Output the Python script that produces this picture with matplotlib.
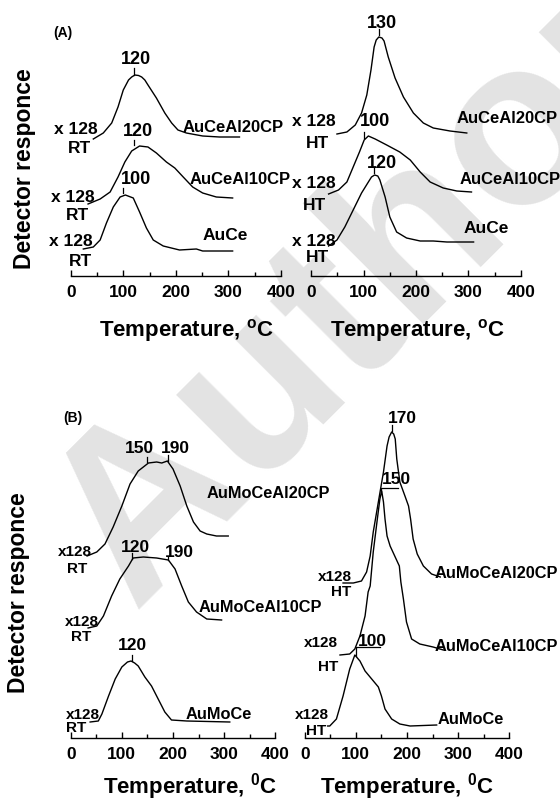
import numpy as np
import matplotlib
matplotlib.use("Agg")
import matplotlib.pyplot as plt
from matplotlib.ticker import MultipleLocator

plt.rcParams["font.family"] = ["Liberation Sans", "DejaVu Sans"]
plt.rcParams["font.weight"] = "bold"
plt.rcParams["mathtext.fontset"] = "custom"
plt.rcParams["mathtext.rm"] = "Liberation Sans:bold"
plt.rcParams["mathtext.bf"] = "Liberation Sans:bold"

# ---------------- data: temperature (deg C) vs detector signal (a.u.) ----------------
# (A) left: RT samples
a20_T = [43, 62, 78, 90, 100, 110, 116, 122, 129, 135, 141, 147, 163, 179, 192, 204, 220, 251, 283, 321]
a20_S = [137, 143, 153, 169, 186, 196, 199, 201, 200.5, 199, 196, 191, 178, 163, 153, 146, 143, 140, 139, 139]
a10_T = [33, 56, 75, 90, 103, 116, 131, 147, 163, 182, 198, 214, 232, 251, 277, 308]
a10_S = [72, 77, 84, 99, 114, 125, 130, 129, 123, 114, 108, 99, 89, 83, 79, 78]
ace_T = [24, 43, 56, 68, 81, 94, 104, 119, 131, 144, 157, 176, 207, 239, 251, 308]
ace_S = [27, 29, 36, 53, 69, 79, 81, 78, 64, 48, 36, 30, 26, 27, 25, 25]

# (A) right: HT samples
r20_T = [49, 68, 84, 96, 106, 114, 120, 124, 129, 135, 139, 147, 160, 176, 195, 214, 233, 265, 297]
r20_S = [142, 144, 151, 163, 181, 206, 229, 236, 239, 238, 235, 219, 198, 179, 163, 153, 148, 145, 143]
r10_T = [33, 52, 68, 80, 92, 101, 109, 122, 144, 169, 189, 208, 227, 252, 278, 306]
r10_S = [82, 86, 94, 109, 124, 136, 140, 137, 131, 124, 116, 104, 94, 88, 85, 84]
rce_T = [33, 49, 64, 80, 96, 109, 115, 121, 127, 131, 141, 150, 163, 182, 208, 233, 259, 310]
rce_S = [30, 36, 49, 66, 83, 94, 99, 101, 100, 96, 79, 59, 44, 38, 35, 35, 34, 34]

# (B) left: RT samples
b20l_T = [32, 51, 67, 83, 100, 116, 132, 152, 168, 178, 189, 200, 214, 227, 240, 253, 266, 285, 308]
b20l_S = [182, 186, 194, 211, 232, 254, 267, 275, 276, 275, 277, 269, 252, 232, 216, 207, 204, 202, 202]
b10l_T = [34, 51, 64, 80, 96, 113, 122, 142, 168, 191, 204, 217, 230, 246, 266, 295]
b10l_S = [110, 112, 122, 142, 159, 172, 180, 181, 180, 178, 169, 152, 136, 126, 119, 118]
bml_T = [38, 54, 61, 74, 87, 100, 111, 118, 125, 132, 145, 158, 171, 184, 197, 227, 311]
bml_S = [16, 17, 24, 42, 59, 71, 76, 77, 75, 72, 61, 52, 39, 26, 18, 17, 16]

# (B) right: HT samples
b20r_T = [75, 95, 111, 121, 128, 134, 144, 154, 161, 165, 170, 174, 177, 180, 186, 196, 203, 207, 212, 220, 232, 248, 265]
b20r_S = [155, 155, 157, 166, 182, 206, 236, 266, 292, 301, 306, 304, 299, 279, 256, 242, 232, 219, 199, 184, 172, 164, 161]
b10r_T = [69, 88, 98, 108, 118, 124, 128, 134, 142, 147, 150.5, 154, 157, 161, 167, 176, 185, 188, 193, 199, 209, 225, 251, 271]
b10r_S = [83, 84, 89, 102, 122, 146, 152, 186, 219, 239, 247, 236, 219, 202, 192, 182, 172, 156, 139, 116, 99, 94, 91, 88]
bmr_T = [45, 49, 62, 75, 88, 98, 108, 118, 131, 144, 150, 157, 170, 186, 206, 258]
bmr_S = [12, 12, 19, 42, 69, 83, 77, 67, 59, 51, 42, 29, 19, 14, 12, 13]

x_ticks = [0, 100, 200, 300, 400]

# ---------------- figure layout (pixels on a 560 x 804 canvas) ----------------
W, H = 560, 804
fig = plt.figure(figsize=(W / 100, H / 100), dpi=100)

# faint diagonal copy stamp behind the panels
fig.text(133 / W, 1 - 610 / H, "Author", fontsize=170, fontweight="bold",
         color="#e3e3e3", rotation=45, rotation_mode="anchor",
         ha="left", va="baseline", zorder=-5)


def panel(left, right, top, bottom):
    ax = fig.add_axes([left / W, 1 - bottom / H, (right - left) / W, (bottom - top) / H])
    ax.set_xlim(0, 400)
    ax.set_ylim(0, bottom - top)
    for s in ("left", "right", "top"):
        ax.spines[s].set_visible(False)
    ax.spines["bottom"].set_linewidth(1.0)
    ax.set_yticks([])
    ax.set_xticks(x_ticks)
    ax.xaxis.set_minor_locator(MultipleLocator(50))
    ax.tick_params(axis="x", which="major", direction="in", length=4, width=1,
                   pad=6, labelsize=12.5)
    ax.tick_params(axis="x", which="minor", direction="in", length=3, width=1)
    for t in ax.get_xticklabels():
        t.set_fontweight("bold")
    ax.patch.set_alpha(0)
    return ax


def curve(ax, T, S):
    ax.plot(T, S, color="black", lw=1.0, clip_on=False)


def peak_tick(ax, t, T, S, lo=2, hi=8):
    base = np.interp(t, T, S)
    ax.plot([t, t], [base + lo, base + hi], color="black", lw=0.9, clip_on=False)


def peak_bracket(ax, t, t_end, T, S, top):
    base = np.interp(t, T, S)
    ax.plot([t, t, t_end], [base, top, top], color="black", lw=0.9, clip_on=False)


def label(ax, s, x, y, size=11.5, ha="center"):
    ax.text(x, y, s, fontsize=size, fontweight="bold", ha=ha, va="center")


def xlabel(ax, s, xc, y):
    ax.set_xlabel(s, fontsize=16, fontweight="bold")
    ax.xaxis.set_label_coords(xc, y)


def ylabel(ax, s, x, yc):
    ax.set_ylabel(s, fontsize=16.5, fontweight="bold", va="center")
    ax.yaxis.set_label_coords(x, yc)


# ---------------- (A) left ----------------
ax = panel(70.7, 281.0, 10, 277)
curve(ax, a20_T, a20_S)
curve(ax, a10_T, a10_S)
curve(ax, ace_T, ace_S)
peak_tick(ax, 120, a20_T, a20_S, 1, 8)
peak_tick(ax, 120, a10_T, a10_S, 5, 10)
peak_tick(ax, 100, ace_T, ace_S, 3, 8)
label(ax, "120", 125, 218, 13)
label(ax, "120", 128, 146, 13)
label(ax, "100", 124, 97, 13)
label(ax, "(A)", -15, 244, 10)
for s, x, y in [("x 128", 10, 147), ("RT", 16, 128.5), ("x 128", 4, 80), ("RT", 13, 62),
                ("x 128", 0, 35), ("RT", 18, 15)]:
    label(ax, s, x, y, 12.5)
label(ax, "AuCeAl20CP", 213, 149, 12, "left")
label(ax, "AuCeAl10CP", 227, 97, 12, "left")
label(ax, "AuCe", 250, 41, 12.5, "left")
xlabel(ax, r"Temperature, $^{\rm o}$C", 0.548, -0.148)
ylabel(ax, "Detector responce", -0.222, 0.405)

# ---------------- (A) right ----------------
ax = panel(311.3, 520.7, 10, 277)
curve(ax, r20_T, r20_S)
curve(ax, r10_T, r10_S)
curve(ax, rce_T, rce_S)
peak_tick(ax, 130, r20_T, r20_S, 2, 8)
peak_tick(ax, 100, r10_T, r10_S, 3, 9)
peak_tick(ax, 120, rce_T, rce_S, 2, 8)
label(ax, "130", 135, 253, 13)
label(ax, "100", 121, 156, 13)
label(ax, "120", 135, 114, 13)
for s, x, y in [("x 128", 5.5, 156), ("HT", 12, 134), ("x 128", 4, 94), ("HT", 7, 71),
                ("x 128", 4.5, 36), ("HT", 11, 19)]:
    label(ax, s, x, y, 12.5)
label(ax, "AuCeAl20CP", 278, 158.5, 12, "left")
label(ax, "AuCeAl10CP", 284, 97, 12, "left")
label(ax, "AuCe", 290, 48.5, 12.5, "left")
xlabel(ax, r"Temperature, $^{\rm o}$C", 0.508, -0.148)

# ---------------- (B) left ----------------
ax = panel(70.7, 275.3, 400, 739)
curve(ax, b20l_T, b20l_S)
curve(ax, b10l_T, b10l_S)
curve(ax, bml_T, bml_S)
peak_tick(ax, 150, b20l_T, b20l_S, 2, 7)
peak_tick(ax, 190, b20l_T, b20l_S, 1, 7)
peak_tick(ax, 120, b10l_T, b10l_S, 1, 7)
peak_tick(ax, 190, b10l_T, b10l_S, 0, 3)
peak_tick(ax, 120, bml_T, bml_S, 1, 7)
label(ax, "150", 135, 290, 12.5)
label(ax, "190", 204, 290, 12.5)
label(ax, "120", 127, 191, 12.5)
label(ax, "190", 212, 186.5, 12.5)
label(ax, "120", 121, 93.5, 12.5)
label(ax, "(B)", 4.5, 321, 10)
for s, x, y in [("x128", 7.5, 186.5), ("RT", 13, 170), ("x128", 21.5, 116.5), ("RT", 20.5, 102),
                ("x128", 23, 24), ("RT", 11, 10.7)]:
    label(ax, s, x, y, 11)
label(ax, "AuMoCeAl20CP", 266, 245, 11.8, "left")
label(ax, "AuMoCeAl10CP", 251, 131.5, 11.8, "left")
label(ax, "AuMoCe", 225, 24, 11.8, "left")
xlabel(ax, r"Temperature, $^{\rm 0}$C", 0.583, -0.094)
ylabel(ax, "Detector responce", -0.253, 0.431)

# ---------------- (B) right ----------------
ax = panel(304.7, 509.3, 400, 739)
curve(ax, b20r_T, b20r_S)
curve(ax, b10r_T, b10r_S)
curve(ax, bmr_T, bmr_S)
peak_tick(ax, 170, b20r_T, b20r_S, 1, 7)
peak_bracket(ax, 150, 183, b10r_T, b10r_S, 250.5)
peak_bracket(ax, 100, 147, bmr_T, bmr_S, 90.7)
label(ax, "170", 191, 320, 12.5)
label(ax, "150", 180, 259, 12.5)
label(ax, "100", 132.5, 97.5, 12.5)
for s, x, y in [("x128", 60, 162.3), ("HT", 70.5, 147.3), ("x128", 32, 95.7), ("HT", 46, 72.3),
                ("x128", 14.6, 24), ("HT", 22, 8.2)]:
    label(ax, s, x, y, 11)
label(ax, "AuMoCeAl20CP", 254.6, 165.7, 11.8, "left")
label(ax, "AuMoCeAl10CP", 254.6, 92.3, 11.8, "left")
label(ax, "AuMoCe", 259, 19, 11.8, "left")
xlabel(ax, r"Temperature, $^{\rm 0}$C", 0.4985, -0.094)

fig.savefig("out.png", dpi=100)
